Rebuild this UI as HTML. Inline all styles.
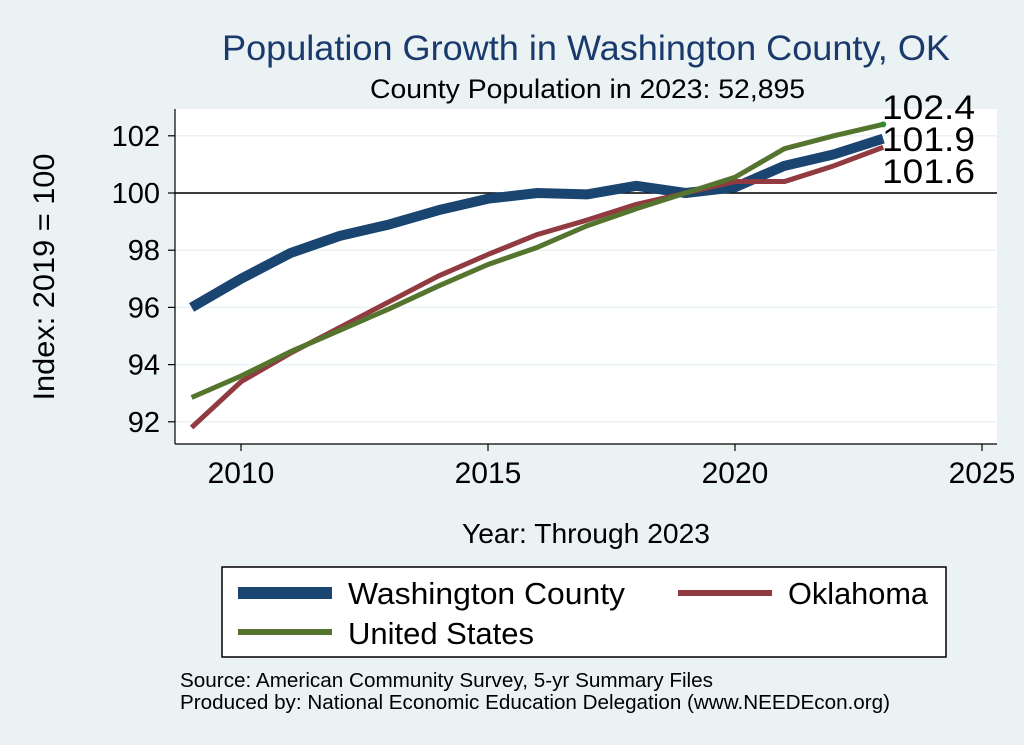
<!DOCTYPE html>
<html><head><meta charset="utf-8"><style>
body{margin:0;background:#eaf2f3;}
svg{display:block;font-family:"Liberation Sans",sans-serif;}
</style></head><body>
<svg id="chart" width="1024" height="745" viewBox="0 0 1024 745">
<rect x="0" y="0" width="1024" height="745" fill="#eaf2f3"/>
<rect x="175" y="109" width="822" height="335" fill="#ffffff"/>
<text x="222" y="60" font-size="35" fill="#1a3a6e" textLength="728" lengthAdjust="spacingAndGlyphs">Population Growth in Washington County, OK</text>
<text x="370" y="98" font-size="27" fill="#000" textLength="435" lengthAdjust="spacingAndGlyphs">County Population in 2023: 52,895</text>
<g id="grid"></g>
<g id="axes"></g>
<g id="series"></g>
<text x="54" y="277" font-size="30" fill="#000" text-anchor="middle" transform="rotate(-90 54 277)" textLength="247" lengthAdjust="spacingAndGlyphs">Index: 2019 = 100</text>
<text x="462" y="543" font-size="28" fill="#000" textLength="248" lengthAdjust="spacingAndGlyphs">Year: Through 2023</text>
<g>
<rect x="222" y="567" width="724" height="90" fill="#fff" stroke="#000" stroke-width="1.5"/>
<line x1="238" y1="593" x2="332" y2="593" stroke="#1a4571" stroke-width="12"/>
<text x="348" y="604" font-size="31" textLength="277" lengthAdjust="spacingAndGlyphs">Washington  County</text>
<line x1="678" y1="593" x2="772" y2="593" stroke="#913a40" stroke-width="6"/>
<text x="788" y="604" font-size="31" textLength="140" lengthAdjust="spacingAndGlyphs">Oklahoma</text>
<line x1="238" y1="632" x2="332" y2="632" stroke="#55752f" stroke-width="6"/>
<text x="348" y="644" font-size="31" textLength="186" lengthAdjust="spacingAndGlyphs">United States</text>
</g>
<text x="180" y="687" font-size="20" textLength="533" lengthAdjust="spacingAndGlyphs">Source: American Community Survey, 5-yr Summary Files</text>
<text x="180" y="709" font-size="20" textLength="710" lengthAdjust="spacingAndGlyphs">Produced by: National Economic Education Delegation (www.NEEDEcon.org)</text>
</svg>
<script>
const years=[2009,2010,2011,2012,2013,2014,2015,2016,2017,2018,2019,2020,2021,2022,2023];
const washington=[96.0,97.0,97.9,98.5,98.9,99.4,99.8,100.0,99.95,100.25,100.0,100.2,100.95,101.35,101.9];
const oklahoma=[91.8,93.4,94.4,95.3,96.2,97.1,97.85,98.55,99.05,99.6,100.0,100.4,100.4,100.95,101.6];
const unitedStates=[92.85,93.6,94.45,95.2,95.95,96.75,97.5,98.1,98.85,99.45,100.0,100.55,101.55,102.0,102.4];
const yTicks=[92,94,96,98,100,102];
const xTicks=[2010,2015,2020,2025];
const endLabels=["102.4","101.9","101.6"];
const NS="http://www.w3.org/2000/svg";
const xs=y=>241+(y-2010)*49.4;
const ys=v=>193-(v-100)*28.6;
function mk(tag,attrs,parent){const e=document.createElementNS(NS,tag);for(const k in attrs)e.setAttribute(k,attrs[k]);parent.appendChild(e);return e;}
const grid=document.getElementById('grid'),axes=document.getElementById('axes'),series=document.getElementById('series');
yTicks.forEach(t=>{
 const g=mk('line',{x1:175,x2:997,y1:ys(t),y2:ys(t),stroke:'#eaf2f3','stroke-width':1.5},grid);
 
 
 const tk=mk('line',{x1:168,x2:175,y1:ys(t),y2:ys(t),stroke:'#000','stroke-width':1.2},axes);
 
 
 const lb=mk('text',{x:160,y:ys(t)+10,'font-size':29,'text-anchor':'end'},axes);
 lb.textContent=t;
 
 
});
xTicks.forEach(t=>{
 const tk=mk('line',{x1:xs(t),x2:xs(t),y1:444,y2:451,stroke:'#000','stroke-width':1.2},axes);
 
 
 const lb=mk('text',{x:xs(t),y:483,'font-size':30,'text-anchor':'middle'},axes);
 lb.textContent=t;
 
 
});
const ya=mk('line',{x1:175,x2:175,y1:109,y2:444,stroke:'#000','stroke-width':1.2},axes);


const xa=mk('line',{x1:175,x2:997,y1:444,y2:444,stroke:'#000','stroke-width':1.2},axes);


const ref=mk('line',{x1:175,x2:997,y1:ys(100),y2:ys(100),stroke:'#000','stroke-width':1.5},axes);


function draw(vals,color,w,name){
 const p=mk('polyline',{points:vals.map((v,i)=>xs(years[i])+','+ys(v)).join(' '),fill:'none',stroke:color,'stroke-width':w,'stroke-linejoin':'round'},series);
 
 
}
draw(washington,'#1a4571',10,'line-washington-county');
draw(oklahoma,'#913a40',5,'line-oklahoma');
draw(unitedStates,'#55752f',5,'line-united-states');
const dot=mk('circle',{cx:xs(2023),cy:ys(unitedStates[14]),r:3,fill:'#2e8b2e'},series);


const ly=[119,151,183];
endLabels.forEach((s,i)=>{
 const t=mk('text',{x:882,y:ly[i],'font-size':34,textLength:93,lengthAdjust:'spacingAndGlyphs'},series);
 t.textContent=s;
 
 
});
</script>
</body></html>
